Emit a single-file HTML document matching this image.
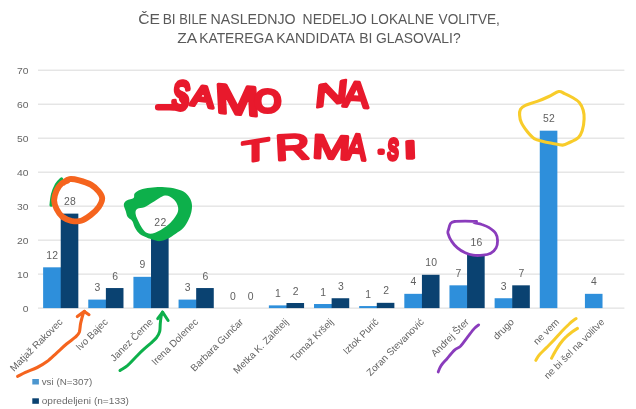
<!DOCTYPE html>
<html lang="sl"><head><meta charset="utf-8"><title>Anketa</title>
<style>
html,body{margin:0;padding:0;background:#fff;}
body{width:636px;height:409px;overflow:hidden;font-family:"Liberation Sans",sans-serif;}
svg{display:block;}
text{font-family:"Liberation Sans",sans-serif;}
.t{font-size:14.2px;fill:#595959;}
.ax{font-size:9.4px;fill:#666;}
.dl{font-size:10.4px;fill:#606060;letter-spacing:0.3px;}
.cl{font-size:9.8px;fill:#636363;}
.lg{font-size:9px;fill:#6b6b6b;}
.hw{font-family:"Liberation Sans",sans-serif;font-weight:normal;fill:#E8192C;stroke:#E8192C;stroke-linejoin:round;stroke-linecap:round;}
</style></head><body>
<svg width="636" height="409" viewBox="0 0 636 409">
<rect width="636" height="409" fill="#fff"/>

<text class="t" y="23.9"><tspan x="138.2" textLength="21.8" lengthAdjust="spacingAndGlyphs">ČE</tspan> <tspan x="162.7" textLength="13.0" lengthAdjust="spacingAndGlyphs">BI</tspan> <tspan x="179.2" textLength="28.0" lengthAdjust="spacingAndGlyphs">BILE</tspan> <tspan x="210.5" textLength="85.1" lengthAdjust="spacingAndGlyphs">NASLEDNJO</tspan> <tspan x="302.6" textLength="64.2" lengthAdjust="spacingAndGlyphs">NEDELJO</tspan> <tspan x="370.7" textLength="63.1" lengthAdjust="spacingAndGlyphs">LOKALNE</tspan> <tspan x="438.6" textLength="61.3" lengthAdjust="spacingAndGlyphs">VOLITVE,</tspan></text>
<text class="t" y="43.4"><tspan x="177.2" textLength="19.1" lengthAdjust="spacingAndGlyphs">ZA</tspan> <tspan x="199.2" textLength="73.7" lengthAdjust="spacingAndGlyphs">KATEREGA</tspan> <tspan x="276.2" textLength="78.1" lengthAdjust="spacingAndGlyphs">KANDIDATA</tspan> <tspan x="359.2" textLength="13.2" lengthAdjust="spacingAndGlyphs">BI</tspan> <tspan x="376.0" textLength="84.6" lengthAdjust="spacingAndGlyphs">GLASOVALI?</tspan></text>
<line x1="38" x2="624.4" y1="308.10" y2="308.10" stroke="#D9D9D9" stroke-width="1"/>
<text class="ax" x="28.4" y="311.60" text-anchor="end" textLength="5.75" lengthAdjust="spacingAndGlyphs">0</text>
<line x1="38" x2="624.4" y1="274.11" y2="274.11" stroke="#D9D9D9" stroke-width="1"/>
<text class="ax" x="28.4" y="277.61" text-anchor="end" textLength="11.50" lengthAdjust="spacingAndGlyphs">10</text>
<line x1="38" x2="624.4" y1="240.13" y2="240.13" stroke="#D9D9D9" stroke-width="1"/>
<text class="ax" x="28.4" y="243.63" text-anchor="end" textLength="11.50" lengthAdjust="spacingAndGlyphs">20</text>
<line x1="38" x2="624.4" y1="206.14" y2="206.14" stroke="#D9D9D9" stroke-width="1"/>
<text class="ax" x="28.4" y="209.64" text-anchor="end" textLength="11.50" lengthAdjust="spacingAndGlyphs">30</text>
<line x1="38" x2="624.4" y1="172.16" y2="172.16" stroke="#D9D9D9" stroke-width="1"/>
<text class="ax" x="28.4" y="175.66" text-anchor="end" textLength="11.50" lengthAdjust="spacingAndGlyphs">40</text>
<line x1="38" x2="624.4" y1="138.17" y2="138.17" stroke="#D9D9D9" stroke-width="1"/>
<text class="ax" x="28.4" y="141.67" text-anchor="end" textLength="11.50" lengthAdjust="spacingAndGlyphs">50</text>
<line x1="38" x2="624.4" y1="104.18" y2="104.18" stroke="#D9D9D9" stroke-width="1"/>
<text class="ax" x="28.4" y="107.68" text-anchor="end" textLength="11.50" lengthAdjust="spacingAndGlyphs">60</text>
<line x1="38" x2="624.4" y1="70.20" y2="70.20" stroke="#D9D9D9" stroke-width="1"/>
<text class="ax" x="28.4" y="73.70" text-anchor="end" textLength="11.50" lengthAdjust="spacingAndGlyphs">70</text>
<rect x="43.12" y="267.32" width="18.200000000000003" height="40.78" fill="#2E8FDB"/>
<text class="dl" x="52.32" y="258.82" text-anchor="middle">12</text>
<rect x="60.73" y="213.62" width="17.6" height="94.48" fill="#0A4271"/>
<text class="dl" x="70.12" y="205.12" text-anchor="middle">28</text>
<text class="cl" transform="translate(63.22,322.60) rotate(-45)" text-anchor="end">Matjaž Rakovec</text>
<rect x="88.27" y="299.60" width="18.200000000000003" height="8.50" fill="#2E8FDB"/>
<text class="dl" x="97.47" y="291.10" text-anchor="middle">3</text>
<rect x="105.88" y="288.05" width="17.6" height="20.05" fill="#0A4271"/>
<text class="dl" x="115.27" y="279.55" text-anchor="middle">6</text>
<text class="cl" transform="translate(108.38,322.60) rotate(-45)" text-anchor="end">Ivo Bajec</text>
<rect x="133.42" y="276.83" width="18.200000000000003" height="31.27" fill="#2E8FDB"/>
<text class="dl" x="142.62" y="268.33" text-anchor="middle">9</text>
<rect x="151.02" y="234.01" width="17.6" height="74.09" fill="#0A4271"/>
<text class="dl" x="160.42" y="225.51" text-anchor="middle">22</text>
<text class="cl" transform="translate(153.52,322.60) rotate(-45)" text-anchor="end">Janez Černe</text>
<rect x="178.57" y="299.60" width="18.200000000000003" height="8.50" fill="#2E8FDB"/>
<text class="dl" x="187.78" y="291.10" text-anchor="middle">3</text>
<rect x="196.17" y="288.05" width="17.6" height="20.05" fill="#0A4271"/>
<text class="dl" x="205.57" y="279.55" text-anchor="middle">6</text>
<text class="cl" transform="translate(198.67,322.60) rotate(-45)" text-anchor="end">Irena Dolenec</text>
<text class="dl" x="232.93" y="299.60" text-anchor="middle">0</text>
<text class="dl" x="250.72" y="299.60" text-anchor="middle">0</text>
<text class="cl" transform="translate(243.82,322.60) rotate(-45)" text-anchor="end">Barbara Gunčar</text>
<rect x="268.88" y="305.38" width="18.200000000000003" height="2.72" fill="#2E8FDB"/>
<text class="dl" x="278.07" y="296.88" text-anchor="middle">1</text>
<rect x="286.48" y="303.00" width="17.6" height="5.10" fill="#0A4271"/>
<text class="dl" x="295.88" y="294.50" text-anchor="middle">2</text>
<text class="cl" transform="translate(288.97,322.60) rotate(-45)" text-anchor="end">Metka K. Zaletelj</text>
<rect x="314.02" y="304.02" width="18.200000000000003" height="4.08" fill="#2E8FDB"/>
<text class="dl" x="323.22" y="295.52" text-anchor="middle">1</text>
<rect x="331.62" y="298.24" width="17.6" height="9.86" fill="#0A4271"/>
<text class="dl" x="341.03" y="289.74" text-anchor="middle">3</text>
<text class="cl" transform="translate(334.12,322.60) rotate(-45)" text-anchor="end">Tomaž Kršelj</text>
<rect x="359.18" y="306.06" width="18.200000000000003" height="2.04" fill="#2E8FDB"/>
<text class="dl" x="368.38" y="297.56" text-anchor="middle">1</text>
<rect x="376.78" y="302.83" width="17.6" height="5.27" fill="#0A4271"/>
<text class="dl" x="386.18" y="294.33" text-anchor="middle">2</text>
<text class="cl" transform="translate(379.27,322.60) rotate(-45)" text-anchor="end">Iztok Purič</text>
<rect x="404.32" y="293.83" width="18.200000000000003" height="14.27" fill="#2E8FDB"/>
<text class="dl" x="413.52" y="285.33" text-anchor="middle">4</text>
<rect x="421.93" y="274.79" width="17.6" height="33.31" fill="#0A4271"/>
<text class="dl" x="431.33" y="266.29" text-anchor="middle">10</text>
<text class="cl" transform="translate(424.42,322.60) rotate(-45)" text-anchor="end">Zoran Stevanović</text>
<rect x="449.47" y="285.33" width="18.200000000000003" height="22.77" fill="#2E8FDB"/>
<text class="dl" x="458.67" y="276.83" text-anchor="middle">7</text>
<rect x="467.07" y="254.06" width="17.6" height="54.04" fill="#0A4271"/>
<text class="dl" x="476.48" y="245.56" text-anchor="middle">16</text>
<text class="cl" transform="translate(469.57,322.60) rotate(-45)" text-anchor="end">Andrej Šter</text>
<rect x="494.62" y="298.24" width="18.200000000000003" height="9.86" fill="#2E8FDB"/>
<text class="dl" x="503.82" y="289.74" text-anchor="middle">3</text>
<rect x="512.23" y="285.33" width="17.6" height="22.77" fill="#0A4271"/>
<text class="dl" x="521.62" y="276.83" text-anchor="middle">7</text>
<text class="cl" transform="translate(514.73,322.60) rotate(-45)" text-anchor="end">drugo</text>
<rect x="539.77" y="130.69" width="17.6" height="177.41" fill="#2E8FDB"/>
<text class="dl" x="548.97" y="122.19" text-anchor="middle">52</text>
<text class="cl" transform="translate(559.88,322.60) rotate(-45)" text-anchor="end">ne vem</text>
<rect x="584.92" y="293.83" width="17.6" height="14.27" fill="#2E8FDB"/>
<text class="dl" x="594.12" y="285.33" text-anchor="middle">4</text>
<text class="cl" transform="translate(605.02,322.60) rotate(-45)" text-anchor="end">ne bi šel na volitve</text>
<rect x="32.3" y="379" width="6.6" height="5.5" fill="#4C96CF"/><text class="lg" x="41.7" y="384.8" textLength="50.6" lengthAdjust="spacingAndGlyphs">vsi (N=307)</text>
<rect x="32.3" y="398.3" width="6.6" height="5.5" fill="#0A4271"/><text class="lg" x="41.7" y="404" textLength="87.3" lengthAdjust="spacingAndGlyphs">opredeljeni (n=133)</text>
<path d="M61.5 179.1C60.7 180.0 58.1 182.0 56.6 184.6C55.2 187.1 53.6 190.9 52.7 194.4C51.8 197.8 51.4 203.3 51.2 205.1" fill="none" stroke="#0DB04B" stroke-width="3.5" stroke-linecap="round"/>
<path d="M123.8 204.4C124.0 202.6 125.1 201.5 126.7 200.4C128.4 199.4 132.3 199.2 133.6 198.1C134.9 197.0 133.4 195.0 134.6 193.6C135.7 192.2 137.8 190.7 140.4 189.7C143.0 188.7 146.6 188.1 150.2 187.7C153.8 187.3 158.1 187.0 162.0 187.1C165.9 187.2 170.1 187.6 173.7 188.3C177.3 189.1 180.9 190.1 183.5 191.6C186.1 193.2 188.0 195.4 189.4 197.5C190.8 199.6 191.6 201.9 191.9 204.4C192.2 206.8 191.9 209.6 191.3 212.2C190.7 214.8 189.7 217.4 188.4 220.0C187.1 222.6 185.6 225.6 183.5 227.8C181.4 230.1 178.3 231.9 175.7 233.7C173.1 235.5 170.4 237.4 167.8 238.6C165.2 239.8 162.6 241.0 160.0 241.1C157.4 241.3 154.8 240.3 152.2 239.6C149.6 238.8 146.6 237.8 144.4 236.6C142.1 235.5 140.1 234.4 138.5 232.7C136.9 231.1 135.6 228.8 134.6 226.9C133.5 224.9 133.4 222.6 132.2 221.0C131.1 219.4 128.8 218.7 127.7 217.1C126.6 215.4 126.4 213.3 125.8 211.2C125.1 209.1 123.6 206.1 123.8 204.4Z M137.5 208.7C139.0 207.8 141.7 208.4 144.4 207.3C147.0 206.2 149.7 204.0 153.2 202.0C156.6 200.0 161.6 196.1 164.9 195.5C168.2 195.0 170.7 197.0 172.7 198.5C174.8 200.0 176.4 202.2 177.2 204.4C178.1 206.5 178.6 208.8 178.0 211.2C177.4 213.6 175.7 216.5 173.7 219.0C171.8 221.5 169.4 224.0 166.3 226.3C163.2 228.6 158.3 231.6 155.1 232.7C152.0 233.9 149.6 234.1 147.3 233.1C145.0 232.1 143.1 229.4 141.4 226.9C139.7 224.3 137.9 220.5 136.9 218.1C135.9 215.6 135.5 213.7 135.5 212.2C135.6 210.6 136.0 209.5 137.5 208.7Z" fill="#0DB04B" fill-rule="evenodd"/>
<path d="M63.5 182.6C64.5 182.0 66.7 179.5 69.4 179.1C72.0 178.7 75.6 179.4 79.1 180.3C82.7 181.2 87.6 182.7 90.9 184.6C94.1 186.4 96.8 189.1 98.7 191.4C100.6 193.7 102.2 195.7 102.2 198.3C102.2 200.9 100.6 204.3 98.7 207.1C96.8 209.8 93.8 212.6 90.9 214.9C87.9 217.2 84.4 219.8 81.1 220.8C77.8 221.8 74.4 221.4 71.3 220.8C68.2 220.1 65.0 218.8 62.5 216.9C60.1 214.9 58.0 211.8 56.6 209.0C55.2 206.3 54.1 203.3 54.1 200.2C54.1 197.1 55.4 193.2 56.6 190.4C57.9 187.7 59.7 185.2 61.5 183.6C63.3 182.0 66.4 181.1 67.4 180.7" fill="none" stroke="#F5641E" stroke-width="5.9" stroke-linecap="round" stroke-linejoin="round"/>
<path d="M17.6 376.3C18.9 375.7 22.2 373.9 25.4 372.4C28.7 370.9 33.6 369.3 37.2 367.5C40.8 365.7 43.7 364.1 47.0 361.6C50.2 359.2 53.5 355.8 56.8 352.8C60.0 349.9 63.4 346.6 66.5 344.0C69.6 341.4 73.2 339.1 75.3 337.2C77.5 335.2 78.4 334.6 79.3 332.3C80.1 330.0 80.0 326.6 80.6 323.5C81.3 320.4 82.5 315.7 83.2 313.7C83.8 311.7 84.3 311.7 84.5 311.4" fill="none" stroke="#F5641E" stroke-width="3.1" stroke-linecap="round" stroke-linejoin="round"/>
<path d="M77.3 316.6L84.1 311.4L89.0 314.7" fill="none" stroke="#F5641E" stroke-width="3.1" stroke-linecap="round" stroke-linejoin="round"/>
<path d="M120.0 370.5C121.2 369.6 124.9 367.7 127.4 365.6C129.9 363.4 132.6 360.3 135.2 357.7C137.8 355.1 140.4 352.3 143.1 349.9C145.7 347.5 148.6 345.2 150.9 343.1C153.2 340.9 155.3 339.1 156.8 337.2C158.2 335.2 159.1 333.6 159.7 331.3C160.3 329.0 160.0 325.9 160.3 323.5C160.5 321.0 160.7 318.5 161.1 316.6C161.4 314.7 162.4 312.9 162.6 312.1" fill="none" stroke="#0DB04B" stroke-width="3.0" stroke-linecap="round" stroke-linejoin="round"/>
<path d="M157.7 318.6L162.6 312.1L168.1 320.5" fill="none" stroke="#0DB04B" stroke-width="3.0" stroke-linecap="round" stroke-linejoin="round"/>
<path d="M476.6 221.5C474.7 221.5 468.9 221.1 465.2 221.1C461.5 221.1 456.9 221.1 454.5 221.5C452.0 221.9 451.5 222.2 450.5 223.5C449.6 224.8 449.0 227.7 448.6 229.4C448.2 231.0 447.5 231.3 448.0 233.3C448.5 235.2 450.0 238.6 451.5 241.1C453.1 243.5 455.1 246.0 457.4 247.9C459.7 249.9 462.6 251.6 465.2 252.8C467.8 254.0 470.1 254.8 473.1 255.2C476.0 255.6 479.9 255.5 482.8 255.2C485.8 254.9 488.4 254.4 490.7 253.2C492.9 252.0 495.0 250.1 496.1 247.9C497.3 245.8 497.6 242.6 497.5 240.1C497.4 237.7 497.0 235.4 495.6 233.3C494.1 231.1 491.0 228.9 488.7 227.4C486.4 225.9 484.0 225.2 481.9 224.5C479.7 223.7 477.3 223.4 476.0 223.1C474.7 222.8 474.4 222.6 474.0 222.5" fill="none" stroke="#8A3CBC" stroke-width="2.8" stroke-linecap="round" stroke-linejoin="round"/>
<path d="M438.2 372.0C438.6 370.9 439.6 367.8 441.1 365.6C442.6 363.3 444.7 361.3 447.0 358.7C449.2 356.1 452.5 352.0 454.8 349.9C457.1 347.8 458.5 348.1 460.7 346.0C462.8 343.9 465.2 340.1 467.5 337.2C469.8 334.2 472.5 330.4 474.4 328.4C476.2 326.3 478.0 325.4 478.7 324.9" fill="none" stroke="#8A3CBC" stroke-width="2.8" stroke-linecap="round" stroke-linejoin="round"/>
<path d="M558.7 91.6C556.1 92.1 552.5 94.9 548.9 96.5C545.3 98.2 541.1 100.0 537.2 101.4C533.3 102.9 528.2 104.0 525.4 105.3C522.7 106.6 521.5 107.6 520.5 109.2C519.6 110.9 519.4 112.8 519.6 115.1C519.7 117.4 520.2 120.2 521.5 122.9C522.8 125.7 525.3 129.1 527.4 131.8C529.5 134.4 531.6 137.0 534.2 138.6C536.9 140.2 540.0 140.7 543.1 141.5C546.2 142.4 549.6 142.9 552.8 143.5C556.1 144.1 559.8 145.2 562.6 145.1C565.4 144.9 566.9 143.8 569.5 142.5C572.1 141.3 576.2 139.6 578.3 137.6C580.4 135.7 581.2 133.9 582.2 130.8C583.2 127.7 584.0 122.5 584.1 119.0C584.3 115.6 584.0 113.0 583.2 110.2C582.4 107.5 581.1 104.5 579.3 102.4C577.5 100.3 574.9 99.0 572.4 97.5C570.0 96.0 566.9 94.6 564.6 93.6C562.3 92.6 561.3 91.1 558.7 91.6Z" fill="none" stroke="#F8CC2A" stroke-width="3.1" stroke-linecap="round" stroke-linejoin="round"/>
<path d="M535.8 360.3C536.4 359.4 537.6 356.8 539.4 354.8C541.1 352.7 543.8 350.4 546.2 347.9C548.6 345.5 551.4 342.9 554.0 340.1C556.6 337.3 559.4 333.9 561.9 331.3C564.3 328.7 566.6 326.4 568.7 324.5C570.8 322.5 573.3 320.5 574.6 319.6C575.8 318.6 575.9 318.8 576.1 318.6" fill="none" stroke="#F8CC2A" stroke-width="3.0" stroke-linecap="round"/>
<path d="M551.5 358.3C552.1 357.2 553.6 354.2 555.0 351.9C556.4 349.5 558.1 346.5 559.9 344.0C561.7 341.6 563.8 339.1 565.8 337.2C567.7 335.2 569.7 333.8 571.6 332.3C573.6 330.8 576.5 329.0 577.5 328.4" fill="none" stroke="#F8CC2A" stroke-width="3.0" stroke-linecap="round"/>
<g role="img" aria-label="SAMO NA TRMA.SI"><text class="hw" font-size="20.0" stroke-width="4.2" style="vector-effect:non-scaling-stroke" transform="translate(181.00 95.50) rotate(8) scale(1.285 1.963) translate(-6.67 6.88)">S</text><text class="hw" font-size="20.0" stroke-width="4.0" style="vector-effect:non-scaling-stroke" transform="translate(202.75 96.50) rotate(8) scale(1.697 1.454) translate(-6.67 6.88)">A</text><text class="hw" font-size="20.0" stroke-width="4.0" style="vector-effect:non-scaling-stroke" transform="translate(237.25 100.00) rotate(5) skewX(8) scale(2.653 2.035) translate(-8.33 6.88)">M</text><text class="hw" font-size="20.0" stroke-width="4.2" style="vector-effect:non-scaling-stroke" transform="translate(267.75 101.00) scale(1.707 1.610) translate(-7.77 6.88)">O</text> <text class="hw" font-size="20.0" stroke-width="3.4" style="vector-effect:non-scaling-stroke" transform="translate(331.75 93.50) skewY(-11) skewX(-6) scale(2.247 1.570) translate(-7.23 6.88)">N</text><text class="hw" font-size="20.0" stroke-width="3.4" style="vector-effect:non-scaling-stroke" transform="translate(356.25 94.50) rotate(4) scale(1.893 1.788) translate(-6.67 6.88)">A</text> <text class="hw" font-size="20.0" stroke-width="3.4" style="vector-effect:non-scaling-stroke" transform="translate(255.50 150.50) skewY(-9) scale(2.264 1.497) translate(-6.10 6.88)">T</text><text class="hw" font-size="20.0" stroke-width="3.4" style="vector-effect:non-scaling-stroke" transform="translate(293.25 147.00) rotate(-3) scale(2.366 1.788) translate(-7.58 6.88)">R</text><text class="hw" font-size="20.0" stroke-width="3.4" style="vector-effect:non-scaling-stroke" transform="translate(331.50 147.25) rotate(3) scale(2.287 1.679) translate(-8.33 6.88)">M</text><text class="hw" font-size="20.0" stroke-width="3.4" style="vector-effect:non-scaling-stroke" transform="translate(356.75 147.00) rotate(5) scale(1.440 1.788) translate(-6.67 6.88)">A</text><text class="hw" font-size="20.0" stroke-width="4.5" style="vector-effect:non-scaling-stroke" transform="translate(381.10 152.20) scale(1.313 1.075) translate(-2.78 1.07)">.</text><text class="hw" font-size="20.0" stroke-width="4.0" style="vector-effect:non-scaling-stroke" transform="translate(393.15 149.45) rotate(3) scale(0.808 1.405) translate(-6.67 6.88)">S</text><text class="hw" font-size="20.0" stroke-width="4.2" style="vector-effect:non-scaling-stroke" transform="translate(410.20 149.90) rotate(-2) scale(2.252 1.235) translate(-2.78 6.88)">I</text></g>
<path d="M182.3 99.4C182.7 100.1 185.0 102.4 184.8 103.7C184.7 105.0 183.9 106.6 181.3 107.2C178.8 107.8 173.4 107.2 169.6 107.2C165.7 107.2 160.1 107.2 158.2 107.2" fill="none" stroke="#E8192C" stroke-width="6.6" stroke-linecap="round"/>
</svg></body></html>
